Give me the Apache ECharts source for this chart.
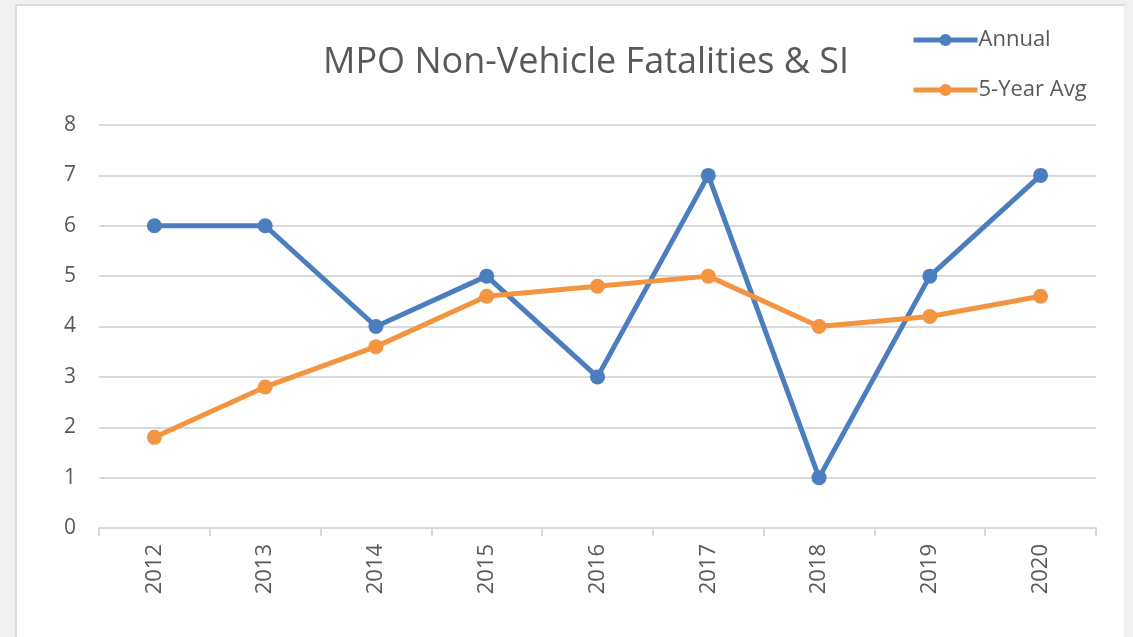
<!DOCTYPE html>
<html>
<head>
<meta charset="utf-8">
<script src="https://cdn.jsdelivr.net/npm/echarts@6/dist/echarts.min.js"></script>
<style>
  body { margin: 0; background: #f1f1f1; }
  #frame { position: absolute; left: 15px; top: 4px; width: 1107px; height: 640px; background: #fff; border-left: 2px solid #dcdcdc; border-top: 2px solid #dcdcdc; border-right: 1px solid #ececec; }
  #main { position: absolute; left: 0; top: 0; width: 1133px; height: 637px; }
</style>
</head>
<body>
<div id="frame"></div>
<div id="main"></div>
<script>
// 数据
var years = ['2012', '2013', '2014', '2015', '2016', '2017', '2018', '2019', '2020'];
var annual = [6, 6, 4, 5, 3, 7, 1, 5, 7];
var fiveYearAvg = [1.8, 2.8, 3.6, 4.6, 4.8, 5.0, 4.0, 4.2, 4.6];
var yTicks = [0, 1, 2, 3, 4, 5, 6, 7, 8];

var textColor = '#595959';
var fontName = '"Open Sans", "Noto Sans", sans-serif';

var myChart = echarts.init(document.getElementById('main'));
var option = {
    animation: false,
    title: {
        text: 'MPO Non-Vehicle Fatalities & SI',
        left: 318,
        top: 40,
        textStyle: { fontFamily: fontName, fontSize: 36, fontWeight: 'normal', color: textColor }
    },
    legend: {
        orient: 'vertical',
        left: 906,
        top: 24,
        itemWidth: 64,
        itemHeight: 15,
        itemGap: 28,
        data: ['Annual', '5-Year Avg'],
        lineStyle: { width: 5 },
        textStyle: { fontFamily: fontName, fontSize: 22, color: textColor, padding: [0, 0, 0, -4] }
    },
    grid: { left: 99, right: 37, top: 125, bottom: 109 },
    xAxis: {
        type: 'category',
        data: years,
        boundaryGap: true,
        axisLine: { lineStyle: { color: '#d9d9d9', width: 2 } },
        axisTick: { show: true, length: 8, lineStyle: { color: '#d9d9d9', width: 2 } },
        axisLabel: { rotate: 90, margin: 16, fontFamily: fontName, fontSize: 22, color: textColor }
    },
    yAxis: {
        type: 'value',
        min: yTicks[0],
        max: yTicks[yTicks.length - 1],
        interval: 1,
        axisLine: { show: false },
        axisTick: { show: false },
        splitLine: { lineStyle: { color: '#d9d9d9', width: 2 } },
        axisLabel: { margin: 23, fontFamily: fontName, fontSize: 21, color: textColor }
    },
    series: [
        {
            name: 'Annual',
            type: 'line',
            data: annual,
            symbol: 'circle',
            symbolSize: 15,
            lineStyle: { width: 5, color: '#4a7ebf' },
            itemStyle: { color: '#4a7ebf' }
        },
        {
            name: '5-Year Avg',
            type: 'line',
            data: fiveYearAvg,
            symbol: 'circle',
            symbolSize: 15,
            lineStyle: { width: 5, color: '#f39440' },
            itemStyle: { color: '#f39440' }
        }
    ]
};
myChart.setOption(option);
</script>
</body>
</html>
